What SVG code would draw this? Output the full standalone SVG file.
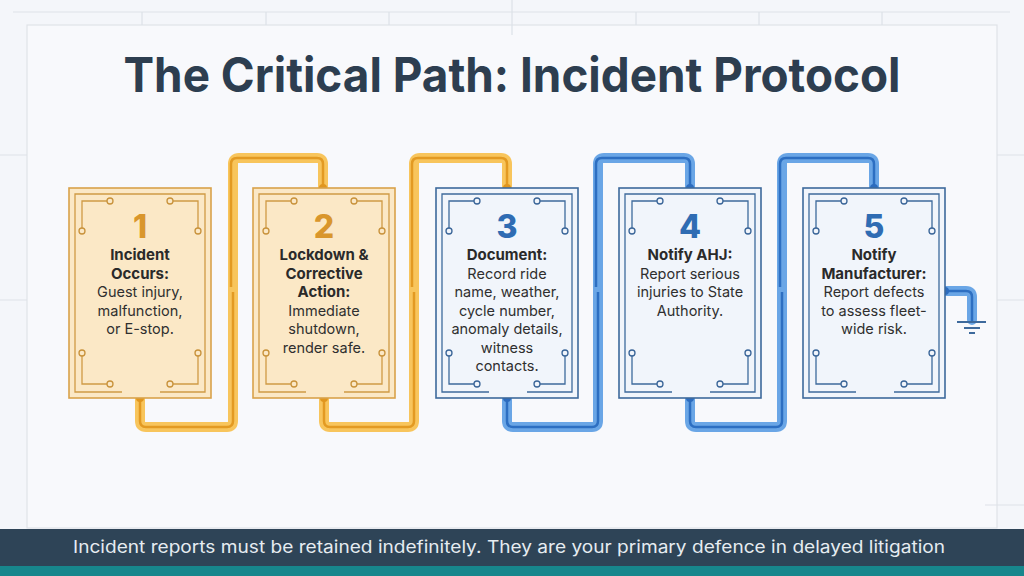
<svg xmlns="http://www.w3.org/2000/svg" width="1024" height="576" viewBox="0 0 1024 576">
<defs>
<style>
.frame{fill:none;stroke:#dde2e8;stroke-width:1.2}
.title{font-family:Inter,"Liberation Sans",sans-serif;font-weight:700;font-size:48px;fill:#2d3e50}
.foot{font-family:Inter,"Liberation Sans",sans-serif;font-size:17px;fill:#e6ecf1}
.num{font-family:Inter,"Liberation Sans",sans-serif;font-weight:800;font-size:32px;text-anchor:middle}
.b{font-family:Inter,"Liberation Sans",sans-serif;font-weight:700;font-size:15px;fill:#2a2a2a;text-anchor:middle}
.r{font-family:Inter,"Liberation Sans",sans-serif;font-size:14.5px;fill:#2f2f2f;text-anchor:middle}
.o .outer{fill:#fbe8c6;stroke:#d9a24a;stroke-width:1.6}
.o .inner,.o .deco{fill:none;stroke:#cf9a45;stroke-width:1.3}
.o .pin{fill:#fbe8c6;stroke:#c8923b;stroke-width:1.3}
.o .num{fill:#d9962c}
.u .outer{fill:#f1f5fb;stroke:#3e6a9c;stroke-width:1.6}
.u .inner,.u .deco{fill:none;stroke:#3e6a9c;stroke-width:1.3}
.u .pin{fill:#f1f5fb;stroke:#3a6598;stroke-width:1.3}
.u .num{fill:#2f6cb3}
.bandO{fill:none;stroke:#f8c55c;stroke-width:10;stroke-linejoin:round;stroke-linecap:round}
.lineO{fill:none;stroke:#e39a22;stroke-width:2.5;stroke-linejoin:round}
.bandB{fill:none;stroke:#6aa6e6;stroke-width:10;stroke-linejoin:round;stroke-linecap:round}
.lineB{fill:none;stroke:#2d6fc2;stroke-width:2.5;stroke-linejoin:round}
.dotO{fill:#e0961f}
.dotB{fill:#2d6cbe}
</style>
</defs>
<rect x="0" y="0" width="1024" height="576" fill="#f4f6fa"/>
<g id="frame">
<rect x="27" y="25" width="970" height="503" fill="#f8f9fc" stroke="#dfe3e8" stroke-width="1.2"/>
<path class="frame" d="M13 12 H1010 M142 12 V25 M266 12 V25 M389 12 V25 M512 0 V35 M636 12 V25 M759 12 V25 M882 12 V25 M0 155 H27 M0 300 H27 M997 155 H1024 M997 300 H1024 M985 505 H1024"/>
</g>
<g id="title">
<text class="title" x="512" y="92" text-anchor="middle" textLength="777" lengthAdjust="spacingAndGlyphs">The Critical Path: Incident Protocol</text>
</g>
<g id="connectors">
<path class="bandO" d="M140 398 V421 Q140 427 146 427 H227 Q233 427 233 421 V164 Q233 158 239 158 H317 Q323 158 323 164 V188"/>
<path class="lineO" d="M140 398 V421 Q140 427 146 427 H227 Q233 427 233 421 V292 M231 287 V164 Q231 158 237 158 H317 Q323 158 323 164 V188"/>
<path class="bandO" d="M324 398 V421 Q324 427 330 427 H408 Q414 427 414 421 V164 Q414 158 420 158 H501 Q507 158 507 164 V188"/>
<path class="lineO" d="M324 398 V421 Q324 427 330 427 H408 Q414 427 414 421 V292 M412 287 V164 Q412 158 418 158 H501 Q507 158 507 164 V188"/>
<path class="bandB" d="M507 398 V421 Q507 427 513 427 H592 Q598 427 598 421 V164 Q598 158 604 158 H684 Q690 158 690 164 V188"/>
<path class="lineB" d="M507 398 V421 Q507 427 513 427 H592 Q598 427 598 421 V292 M596 287 V164 Q596 158 602 158 H684 Q690 158 690 164 V188"/>
<path class="bandB" d="M690 398 V421 Q690 427 696 427 H776 Q782 427 782 421 V164 Q782 158 788 158 H868 Q874 158 874 164 V188"/>
<path class="lineB" d="M690 398 V421 Q690 427 696 427 H776 Q782 427 782 421 V292 M780 287 V164 Q780 158 786 158 H868 Q874 158 874 164 V188"/>
<path class="bandB" d="M945 291 H966 Q972 291 972 297 V320"/>
<path class="lineB" d="M945 291 H966 Q972 291 972 297 V322"/>
<path d="M957 322 H986 M964 328 H980 M969 333 H975" stroke="#3e6a9c" stroke-width="1.8" fill="none"/>
<circle class="dotO" cx="140" cy="398" r="4"/>
<circle class="dotO" cx="323" cy="188" r="4"/>
<circle class="dotO" cx="324" cy="398" r="4"/>
<circle class="dotO" cx="507" cy="188" r="4"/>
<circle class="dotB" cx="507" cy="398" r="4"/>
<circle class="dotB" cx="690" cy="188" r="4"/>
<circle class="dotB" cx="690" cy="398" r="4"/>
<circle class="dotB" cx="874" cy="188" r="4"/>
<circle class="dotB" cx="945" cy="291" r="4"/>
</g>
<g id="step1" class="o">
<rect class="outer" x="69" y="188" width="142" height="210"/>
<path class="inner" d="M122 392 H75 V194 H205 V392 H160"/>
<path class="deco" d="M107 201 H82 V228 M173 201 H198 V228 M82 356 V384 H107 M198 356 V384 H173"/>
<circle class="pin" cx="110" cy="201" r="3"/><circle class="pin" cx="82" cy="231" r="3"/><circle class="pin" cx="170" cy="201" r="3"/><circle class="pin" cx="198" cy="231" r="3"/><circle class="pin" cx="82" cy="353" r="3"/><circle class="pin" cx="110" cy="384" r="3"/><circle class="pin" cx="198" cy="353" r="3"/><circle class="pin" cx="170" cy="384" r="3"/>
<text class="num" x="140" y="238">1</text>
<text class="b" x="140" y="260">Incident</text>
<text class="b" x="140" y="278.5">Occurs:</text>
<text class="r" x="140" y="297">Guest injury,</text>
<text class="r" x="140" y="315.5">malfunction,</text>
<text class="r" x="140" y="334">or E-stop.</text>
</g>
<g id="step2" class="o">
<rect class="outer" x="253" y="188" width="142" height="210"/>
<path class="inner" d="M306 392 H259 V194 H389 V392 H344"/>
<path class="deco" d="M291 201 H266 V228 M357 201 H382 V228 M266 356 V384 H291 M382 356 V384 H357"/>
<circle class="pin" cx="294" cy="201" r="3"/><circle class="pin" cx="266" cy="231" r="3"/><circle class="pin" cx="354" cy="201" r="3"/><circle class="pin" cx="382" cy="231" r="3"/><circle class="pin" cx="266" cy="353" r="3"/><circle class="pin" cx="294" cy="384" r="3"/><circle class="pin" cx="382" cy="353" r="3"/><circle class="pin" cx="354" cy="384" r="3"/>
<text class="num" x="324" y="238">2</text>
<text class="b" x="324" y="260">Lockdown &amp;</text>
<text class="b" x="324" y="278.5">Corrective</text>
<text class="b" x="324" y="297">Action:</text>
<text class="r" x="324" y="315.5">Immediate</text>
<text class="r" x="324" y="334">shutdown,</text>
<text class="r" x="324" y="352.5">render safe.</text>
</g>
<g id="step3" class="u">
<rect class="outer" x="436" y="188" width="142" height="210"/>
<path class="inner" d="M489 392 H442 V194 H572 V392 H527"/>
<path class="deco" d="M474 201 H449 V228 M540 201 H565 V228 M449 356 V384 H474 M565 356 V384 H540"/>
<circle class="pin" cx="477" cy="201" r="3"/><circle class="pin" cx="449" cy="231" r="3"/><circle class="pin" cx="537" cy="201" r="3"/><circle class="pin" cx="565" cy="231" r="3"/><circle class="pin" cx="449" cy="353" r="3"/><circle class="pin" cx="477" cy="384" r="3"/><circle class="pin" cx="565" cy="353" r="3"/><circle class="pin" cx="537" cy="384" r="3"/>
<text class="num" x="507" y="238">3</text>
<text class="b" x="507" y="260">Document:</text>
<text class="r" x="507" y="278.5">Record ride</text>
<text class="r" x="507" y="297">name, weather,</text>
<text class="r" x="507" y="315.5">cycle number,</text>
<text class="r" x="507" y="334">anomaly details,</text>
<text class="r" x="507" y="352.5">witness</text>
<text class="r" x="507" y="371">contacts.</text>
</g>
<g id="step4" class="u">
<rect class="outer" x="619" y="188" width="142" height="210"/>
<path class="inner" d="M672 392 H625 V194 H755 V392 H710"/>
<path class="deco" d="M657 201 H632 V228 M723 201 H748 V228 M632 356 V384 H657 M748 356 V384 H723"/>
<circle class="pin" cx="660" cy="201" r="3"/><circle class="pin" cx="632" cy="231" r="3"/><circle class="pin" cx="720" cy="201" r="3"/><circle class="pin" cx="748" cy="231" r="3"/><circle class="pin" cx="632" cy="353" r="3"/><circle class="pin" cx="660" cy="384" r="3"/><circle class="pin" cx="748" cy="353" r="3"/><circle class="pin" cx="720" cy="384" r="3"/>
<text class="num" x="690" y="238">4</text>
<text class="b" x="690" y="260">Notify AHJ:</text>
<text class="r" x="690" y="278.5">Report serious</text>
<text class="r" x="690" y="297">injuries to State</text>
<text class="r" x="690" y="315.5">Authority.</text>
</g>
<g id="step5" class="u">
<rect class="outer" x="803" y="188" width="142" height="210"/>
<path class="inner" d="M856 392 H809 V194 H939 V392 H894"/>
<path class="deco" d="M841 201 H816 V228 M907 201 H932 V228 M816 356 V384 H841 M932 356 V384 H907"/>
<circle class="pin" cx="844" cy="201" r="3"/><circle class="pin" cx="816" cy="231" r="3"/><circle class="pin" cx="904" cy="201" r="3"/><circle class="pin" cx="932" cy="231" r="3"/><circle class="pin" cx="816" cy="353" r="3"/><circle class="pin" cx="844" cy="384" r="3"/><circle class="pin" cx="932" cy="353" r="3"/><circle class="pin" cx="904" cy="384" r="3"/>
<text class="num" x="874" y="238">5</text>
<text class="b" x="874" y="260">Notify</text>
<text class="b" x="874" y="278.5">Manufacturer:</text>
<text class="r" x="874" y="297">Report defects</text>
<text class="r" x="874" y="315.5">to assess fleet-</text>
<text class="r" x="874" y="334">wide risk.</text>
</g>
<g id="footer">
<rect x="0" y="529" width="1024" height="38" fill="#2e4457"/>
<rect x="0" y="566" width="1024" height="10" fill="#17868c"/>
<text class="foot" x="509" y="553" text-anchor="middle" textLength="872" lengthAdjust="spacingAndGlyphs">Incident reports must be retained indefinitely. They are your primary defence in delayed litigation</text>
</g>
</svg>
